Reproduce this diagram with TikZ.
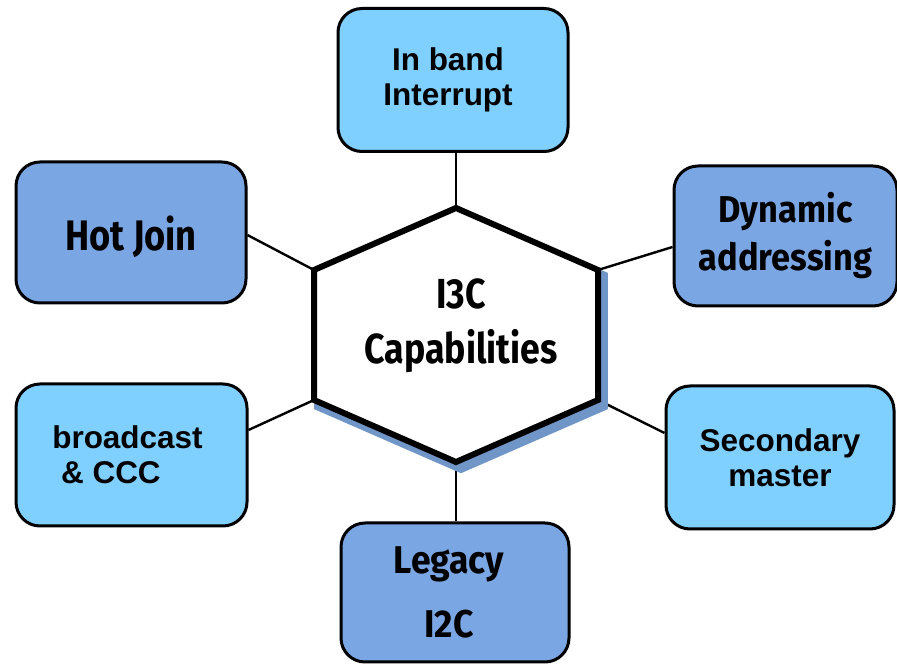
\documentclass[tikz,border=0pt]{standalone}
\usepackage{fontspec}
\setmainfont{Liberation Sans}
\newfontfamily\condf[FakeStretch=0.85]{Fira Sans}
\newfontfamily\condw[FakeStretch=0.92]{Fira Sans}
\usetikzlibrary{backgrounds}
\definecolor{lightbox}{RGB}{128,208,255}
\definecolor{darkbox}{RGB}{122,167,228}
\definecolor{shadowblue}{RGB}{112,150,200}
\begin{document}
\begin{tikzpicture}[x=0.75pt,y=-0.75pt,
  box/.style={draw=black, line width=2.25pt, rounded corners=18pt, align=center, inner sep=0pt},
  lightstyle/.style={box, fill=lightbox, font=\fontsize{23.6}{26}\selectfont\bfseries},
  darkstyle/.style={box, fill=darkbox},
  conn/.style={line width=1.8pt},
  hexline/.style={draw=black, fill=white, line width=4.5pt, line join=miter},
  hexshadow/.style={draw=shadowblue, fill=shadowblue, line width=7.2pt, line join=miter}]
\useasboundingbox (0,0) rectangle (897,666);

\node[lightstyle, minimum width=172.5pt, minimum height=107.25pt] (top) at (453,80) {In band\hspace*{7.5pt}\\Interrupt\hspace*{7.5pt}};
\node[darkstyle, minimum width=172.5pt, minimum height=105.75pt, font=\condf\bfseries\fontsize{32}{38}\selectfont] (hot) at (131,232.5) {\raisebox{-3pt}[\height][\depth]{Hot Join}};
\node[darkstyle, minimum width=167.25pt, minimum height=105pt, font=\condw\bfseries\fontsize{28}{36}\selectfont] (dyn) at (785.5,236) {Dynamic\\addressing};
\node[lightstyle, minimum width=173.25pt, minimum height=106.5pt, align=left] (bc) at (131.5,455) {broadcast\hspace*{6pt}\\\hspace{0.28em}\& CCC};
\node[lightstyle, minimum width=171pt, minimum height=107.25pt] (sec) at (780,457.5) {Secondary\\master};
\node[darkstyle, minimum width=171pt, minimum height=104.25pt, font=\condw\bfseries\fontsize{29}{48}\selectfont] (leg) at (455,592.5) {Legacy\hspace*{9pt}\\I2C\hspace*{9pt}};

\coordinate (v1) at (456,208);
\coordinate (v2) at (598,270);
\coordinate (v3) at (598,400);
\coordinate (v4) at (456,462);
\coordinate (v5) at (314,400);
\coordinate (v6) at (314,270);

\path[hexshadow] ([shift={(5,6)}]v1) -- ([shift={(5,6)}]v2) -- ([shift={(5,6)}]v3) -- ([shift={(5,6)}]v4) -- ([shift={(5,6)}]v5) -- ([shift={(5,6)}]v6) -- cycle;
\path[hexline] (v1) -- (v2) -- (v3) -- (v4) -- (v5) -- (v6) -- cycle;
\node[align=center, inner sep=0pt, font=\condf\bfseries\fontsize{31.5}{41}\selectfont] (hex) at (461,326) {I3C\\Capabilities};

\begin{scope}[on background layer]
\draw[conn] (top.south -| v1) -- (v1);
\draw[conn] ([yshift=-1.9pt]hot.east) -- (v6);
\draw[conn] ([yshift=-8.25pt]dyn.west) -- (v2);
\draw[conn] ([yshift=18.75pt]bc.east) -- (v5);
\draw[conn] ([yshift=18.4pt]sec.west) -- (v3);
\draw[conn] (leg.north -| v4) -- (v4);
\end{scope}
\end{tikzpicture}
\end{document}
